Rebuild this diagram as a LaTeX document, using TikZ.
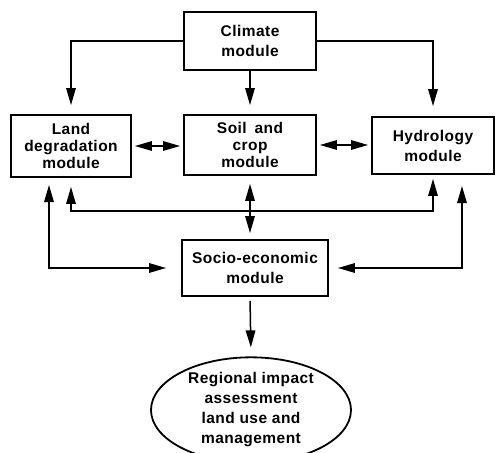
\documentclass[tikz,border=0pt]{standalone}
\usepackage{fontspec}
\setmainfont{Liberation Sans}[LetterSpace=3]
\usetikzlibrary{arrows.meta,shapes.geometric}
\begin{document}
\begin{tikzpicture}[x=1pt,y=-1pt,
  modbox/.style={draw,line width=1.8pt,rectangle,align=center,inner sep=0pt,
    font=\bfseries\fontsize{15.5}{20}\selectfont},
  tight/.style={font=\bfseries\fontsize{15.5}{17}\selectfont},
  tip/.tip={Triangle[length=17pt,width=9.5pt]},
  flow/.style={line width=1.5pt,-tip},
  both/.style={line width=1.5pt,tip-tip}]
\useasboundingbox (0,0) rectangle (496,453);
\fill[white] (0,0) rectangle (496,453);

\node[modbox,minimum width=132pt,minimum height=58pt] (climate) at (250,41) {Climate\\module};
\node[modbox,tight,minimum width=120pt,minimum height=62pt] (land) at (71,146) {Land\\degradation\\module};
\node[modbox,tight,minimum width=132pt,minimum height=60pt] (soil) at (250,145) {Soil\enspace and\\crop\\module};
\node[modbox,minimum width=122pt,minimum height=57pt] (hydro) at (433,145.5) {Hydrology\\module};
\node[modbox,minimum width=146pt,minimum height=56pt] (socio) at (255,268) {Socio-economic\\module};
\node[draw,line width=1.8pt,ellipse,minimum width=200pt,minimum height=96pt,inner sep=0pt,
  align=center,font=\bfseries\fontsize{15.5}{20}\selectfont] (impact) at (251,410)
  {Regional impact\\assessment\\land use and\\management};

\coordinate (bus) at (250,211);
\coordinate (lfree) at (49,185);
\coordinate (rfree) at (462,186);

% climate drives the three process modules
\draw[flow,shorten >=9pt] (climate.west) -| (land.north);
\draw[flow,shorten >=10pt] (climate.east) -| (hydro.north);
\draw[flow,shorten >=9pt] (climate.south) -- (soil.north);

% exchanges between neighbouring modules
\draw[both,shorten <=3pt,shorten >=3pt] (land.east) -- (land.east -| soil.west);
\draw[both,shorten <=3pt,shorten >=3pt] (soil.east) -- (soil.east -| hydro.west);

% shared bus below the process modules
\draw[both,shorten <=9pt,shorten >=4pt] (land.south) |- (bus) -| (hydro.south);
\draw[both,shorten <=8pt,shorten >=6pt] (soil.south) -- (soil.south |- socio.north);

% feedback loops with the socio-economic module
\draw[both,shorten >=15pt] (lfree) |- (socio.west);
\draw[both,shorten >=9pt] (rfree) |- (socio.east);

% outcome
\draw[flow,shorten <=4pt,shorten >=9pt] (socio.south -| bus) -- (impact.north);
\end{tikzpicture}
\end{document}
